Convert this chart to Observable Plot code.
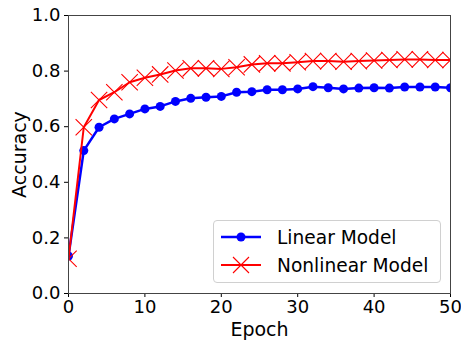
<!DOCTYPE html>
<html>
<head>
<meta charset="utf-8">
<script src="https://cdn.jsdelivr.net/npm/d3@7"></script>
<script src="https://cdn.jsdelivr.net/npm/@observablehq/plot@0.6"></script>
<style>
  html, body { margin: 0; padding: 0; background: #fff; }
  #wrap { position: relative; width: 461px; height: 341px; font-family: "DejaVu Sans", sans-serif; }
  #wrap svg [aria-label="x-axis label"] text, #wrap svg [aria-label="y-axis label"] text { font-size: 19px; }
  #legend { position: absolute; left: 213px; top: 220px; width: 226px; height: 61px;
    border: 1px solid #d0d0d0; border-radius: 4px; background: rgba(255,255,255,0.8); }
  .row { position: absolute; left: 6px; height: 28px; display: flex; align-items: center; }
  .row span { font-size: 18.6px; color: #000; margin-left: 15px; white-space: nowrap; }
</style>
</head>
<body>
<div id="wrap"></div>
<script>
const epochs = [0,2,4,6,8,10,12,14,16,18,20,22,24,26,28,30,32,34,36,38,40,42,44,46,48,50];
const linearAcc = [0.135,0.514,0.598,0.628,0.646,0.664,0.673,0.691,0.702,0.706,0.709,0.724,0.726,0.733,0.733,0.736,0.744,0.740,0.736,0.739,0.740,0.739,0.743,0.743,0.743,0.740];
const nonlinearAcc = [0.125,0.598,0.696,0.724,0.760,0.776,0.788,0.802,0.810,0.810,0.808,0.814,0.824,0.828,0.828,0.832,0.836,0.836,0.834,0.836,0.838,0.840,0.842,0.842,0.840,0.840];
const seriesNames = ["Linear Model", "Nonlinear Model"];
const xTicks = [0,10,20,30,40,50];
const yTicks = [0,0.2,0.4,0.6,0.8,1.0];

const linear = epochs.map((e,i) => ({epoch: e, acc: linearAcc[i]}));
const nonlinear = epochs.map((e,i) => ({epoch: e, acc: nonlinearAcc[i]}));

const BLUE = "#0000ff", RED = "#ff0000";

const chart = Plot.plot({
  width: 461,
  height: 341,
  marginLeft: 68,
  marginRight: 11,
  marginTop: 15,
  marginBottom: 48,
  style: { fontFamily: "DejaVu Sans, sans-serif", fontSize: "18px", color: "#000", background: "#fff" },
  x: { domain: [0, 50], ticks: xTicks, tickSize: 4, tickPadding: 3, label: "Epoch", labelAnchor: "center", labelOffset: 42, labelArrow: "none" },
  y: { domain: [0, 1], ticks: yTicks, tickFormat: d3.format(".1f"), tickSize: 4, tickPadding: 4, label: "Accuracy", labelAnchor: "center", labelOffset: 56, labelArrow: "none" },
  marks: [
    Plot.line(linear, {x: "epoch", y: "acc", stroke: BLUE, strokeWidth: 2.5, clip: true}),
    Plot.dot(linear, {x: "epoch", y: "acc", fill: BLUE, r: 4.5, clip: true}),
    Plot.line(nonlinear, {x: "epoch", y: "acc", stroke: RED, strokeWidth: 2, clip: true}),
    Plot.dot(nonlinear, {x: "epoch", y: "acc", symbol: "times", r: 7.5, stroke: RED, strokeWidth: 1.1, clip: true}),
    Plot.frame({stroke: "#444", strokeWidth: 1})
  ]
});

const wrap = document.getElementById("wrap");
wrap.appendChild(chart);

const legend = document.createElement("div");
legend.id = "legend";
const swatches = [
  `<svg width="42" height="20"><line x1="1" y1="10" x2="41" y2="10" stroke="${BLUE}" stroke-width="2.5"/><circle cx="21" cy="10" r="4.5" fill="${BLUE}"/></svg>`,
  `<svg width="42" height="20"><line x1="1" y1="10" x2="41" y2="10" stroke="${RED}" stroke-width="2"/><path d="M13,2L29,18M13,18L29,2" stroke="${RED}" stroke-width="1.1"/></svg>`
];
seriesNames.forEach((name, i) => {
  const row = document.createElement("div");
  row.className = "row";
  row.style.top = (i === 0 ? 2 : 30) + "px";
  row.innerHTML = swatches[i] + `<span>${name}</span>`;
  legend.appendChild(row);
});
wrap.appendChild(legend);
</script>
</body>
</html>
